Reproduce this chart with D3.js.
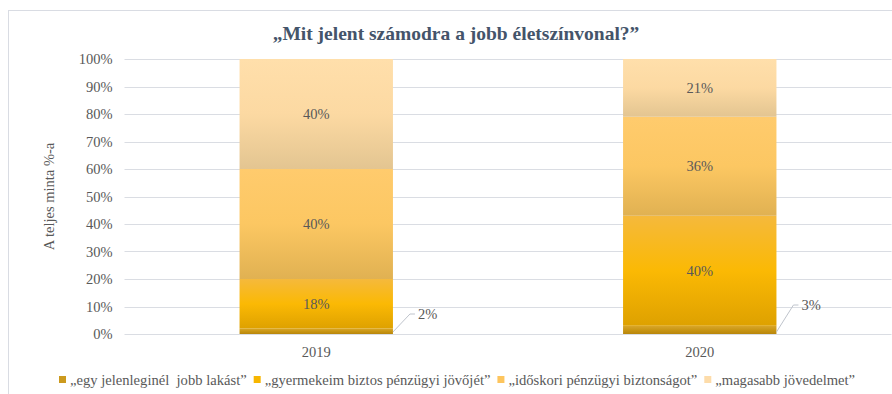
<!DOCTYPE html>
<html>
<head>
<meta charset="utf-8">
<script src="https://cdn.jsdelivr.net/npm/d3@7"></script>
<style>
  html, body { margin: 0; padding: 0; background: #fff; }
  svg text { font-family: "Liberation Serif", "Times New Roman", serif !important; }
  .pre { white-space: pre; }
</style>
</head>
<body>
<svg id="chart" width="892" height="394"></svg>
<script>
// Survey years and answer shares (percent of the full sample)
const years = ["2019", "2020"];
const seriesNames = [
  "„egy jelenleginél  jobb lakást”",
  "„gyermekeim biztos pénzügyi jövőjét”",
  "„időskori pénzügyi biztonságot”",
  "„magasabb jövedelmet”"
];
const lakas      = [2, 3];
const gyermekeim = [18, 40];
const idoskori   = [40, 36];
const jovedelem  = [40, 21];
const yTicks = [0, 10, 20, 30, 40, 50, 60, 70, 80, 90, 100];

const seriesValues = [lakas, gyermekeim, idoskori, jovedelem];

// gradient stops per series: top, middle, bottom
const palette = [
  { swatch: "#cc9a1e", stops: ["#d9a62a", "#c99614", "#b8860b"] },
  { swatch: "#f7b600", stops: ["#f5b93c", "#fbb904", "#dea100"] },
  { swatch: "#fdc55e", stops: ["#ffcb6d", "#fcc762", "#e0b152"] },
  { swatch: "#fddcaa", stops: ["#ffdfab", "#fcd9a2", "#e3c591"] }
];

const svg = d3.select("#chart");
const FS = 14.5;
const TXT = "#595959";

// outer frame
svg.append("rect").attr("x", 8.5).attr("y", 10.5).attr("width", 900).attr("height", 400)
  .attr("fill", "#fff").attr("stroke", "#d9dce3").attr("stroke-width", 1);

const plot = { left: 124.5, right: 891.5, top: 59, bottom: 334 };

const x = d3.scaleBand().domain(years).range([plot.left, plot.right]).padding(0);
const barW = x.bandwidth() * 0.4;
const y = d3.scaleLinear().domain([0, 100]).range([plot.bottom, plot.top]);

// gradients
const defs = svg.append("defs");
palette.forEach((p, i) => {
  const g = defs.append("linearGradient").attr("id", "grad" + i)
    .attr("x1", 0).attr("y1", 0).attr("x2", 0).attr("y2", 1);
  g.append("stop").attr("offset", "0%").attr("stop-color", p.stops[0]);
  g.append("stop").attr("offset", "50%").attr("stop-color", p.stops[1]);
  g.append("stop").attr("offset", "100%").attr("stop-color", p.stops[2]);
});

// gridlines
svg.append("g").selectAll("line").data(yTicks).join("line")
  .attr("x1", plot.left).attr("x2", plot.right)
  .attr("y1", d => Math.round(y(d)) + 0.5).attr("y2", d => Math.round(y(d)) + 0.5)
  .attr("stroke", "#dadde3").attr("stroke-width", 1);

// y axis labels
const yAxis = d3.axisLeft(y).tickValues(yTicks).tickSize(0).tickPadding(12).tickFormat(d => d + "%");
const ya = svg.append("g").attr("transform", `translate(${plot.left},0)`).call(yAxis);
ya.select(".domain").remove();
ya.attr("font-family", null).attr("font-size", null);
ya.selectAll("text").attr("font-size", FS).attr("fill", TXT);

// stacked data
const stackData = years.map((yr, i) => {
  const row = { year: yr };
  seriesValues.forEach((s, k) => row["s" + k] = s[i]);
  return row;
});
const stack = d3.stack().keys(seriesValues.map((_, k) => "s" + k));
const layers = stack(stackData);

layers.forEach((layer, k) => {
  svg.append("g").selectAll("rect").data(layer).join("rect")
    .attr("x", d => x(d.data.year) + (x.bandwidth() - barW) / 2)
    .attr("y", d => y(d[1]))
    .attr("width", barW)
    .attr("height", d => y(d[0]) - y(d[1]))
    .attr("fill", `url(#grad${k})`);
});

// data labels inside segments (series 1..3)
layers.forEach((layer, k) => {
  if (k === 0) return;
  svg.append("g").selectAll("text").data(layer).join("text")
    .attr("x", d => x(d.data.year) + x.bandwidth() / 2)
    .attr("y", d => (y(d[0]) + y(d[1])) / 2 + 5)
    .attr("text-anchor", "middle")
    .attr("font-size", FS).attr("fill", TXT)
    .text(d => (d[1] - d[0]) + "%");
});

// small bottom segment labels with leader lines
layers[0].forEach((d, i) => {
  const bx = x(d.data.year) + (x.bandwidth() + barW) / 2;
  const by = y(d[0]) - 2;
  const lx = bx + 17, ly = by - 18 - i * 9;
  svg.append("polyline")
    .attr("points", `${bx},${by} ${lx},${ly} ${lx + 5},${ly}`)
    .attr("fill", "none").attr("stroke", "#bfc4cc").attr("stroke-width", 1);
  svg.append("text").attr("x", lx + 8).attr("y", ly + 5)
    .attr("font-size", FS).attr("fill", TXT)
    .text((d[1] - d[0]) + "%");
});

// x axis labels
svg.append("g").selectAll("text").data(years).join("text")
  .attr("x", d => x(d) + x.bandwidth() / 2).attr("y", 357)
  .attr("text-anchor", "middle").attr("font-size", FS).attr("fill", TXT)
  .text(d => d);

// y axis title
svg.append("text")
  .attr("transform", `translate(54,${(plot.top + plot.bottom) / 2}) rotate(-90)`)
  .attr("text-anchor", "middle").attr("font-size", FS).attr("fill", TXT)
  .text("A teljes minta %-a");

// title
svg.append("text").attr("x", 456).attr("y", 40).attr("text-anchor", "middle")
  .attr("font-size", 19.5).attr("font-weight", "bold").attr("fill", "#44546a")
  .text("„Mit jelent számodra a jobb életszínvonal?”");

// legend
const leg = svg.append("g");
let lxPos = 59;
seriesNames.forEach((name, k) => {
  leg.append("rect").attr("x", lxPos).attr("y", 376).attr("width", 7).attr("height", 7)
    .attr("fill", palette[k].swatch);
  const t = leg.append("text").attr("class", "pre").attr("x", lxPos + 11).attr("y", 385)
    .attr("font-size", 14.6).attr("fill", TXT).text(name);
  lxPos += 11 + t.node().getComputedTextLength() + 7;
});
</script>
</body>
</html>
